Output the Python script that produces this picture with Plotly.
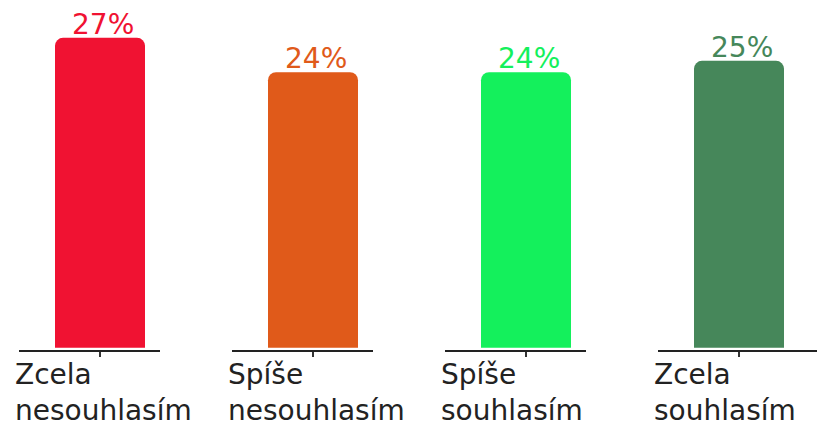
import plotly.graph_objects as go
from plotly.subplots import make_subplots

categories = ["Zcela<br>nesouhlasím", "Spíše<br>nesouhlasím", "Spíše<br>souhlasím", "Zcela<br>souhlasím"]
values = [27, 24, 24, 25]
value_labels = ["27%", "24%", "24%", "25%"]
colors = ["#F01232", "#E05A1A", "#14F05C", "#46875A"]

W, H = 825, 428
FONT = "DejaVu Sans"

fig = make_subplots(rows=1, cols=4, shared_yaxes=True)

# pixel domains of the four separate axis segments (page has an 8px body margin)
domains_px = [(11, 152), (224, 365), (437, 578), (650, 825)]

for i, (cat, val, lab, col) in enumerate(zip(categories, values, value_labels, colors)):
    fig.add_trace(go.Bar(
        x=[0], y=[val],
        width=0.9,
        marker=dict(color=col, cornerradius=8, line=dict(width=0)),
        hoverinfo="skip",
        showlegend=False,
    ), row=1, col=i + 1)

    x0, x1 = domains_px[i]
    rng_right = -0.81 + (x1 - x0) / 100.0
    fig.update_xaxes(
        domain=[x0 / W, x1 / W],
        range=[-0.81, rng_right],
        showticklabels=False,
        tickmode="array", tickvals=[0],
        ticks="outside", ticklen=5, tickwidth=2, tickcolor="#333333",
        showline=True, linecolor="#222222", linewidth=2,
        showgrid=False, zeroline=False,
        row=1, col=i + 1,
    )

    axis_id = "x" if i == 0 else f"x{i + 1}"
    yaxis_id = "y" if i == 0 else f"y{i + 1}"

    # value label above the bar
    fig.add_annotation(
        text=lab,
        xref=axis_id, yref=yaxis_id,
        x=0, y=val, xanchor="center", yanchor="bottom",
        xshift=3, yshift=-5,
        showarrow=False,
        font=dict(family=FONT, size=28, color=col),
    )

    # category label, left aligned under the axis segment
    fig.add_annotation(
        text=cat,
        xref=f"{axis_id} domain", yref="paper",
        x=0, y=0, xanchor="left", yanchor="top",
        xshift=-6, yshift=-6,
        align="left", showarrow=False,
        font=dict(family=FONT, size=28, color="#222222"),
    )

fig.update_yaxes(
    range=[-0.2, 29.6],
    visible=False,
    showgrid=False, zeroline=False,
)

fig.update_layout(
    width=W, height=H,
    margin=dict(l=0, r=0, t=0, b=86),
    plot_bgcolor="white",
    paper_bgcolor="white",
    showlegend=False,
)

fig.write_html("out.html")
